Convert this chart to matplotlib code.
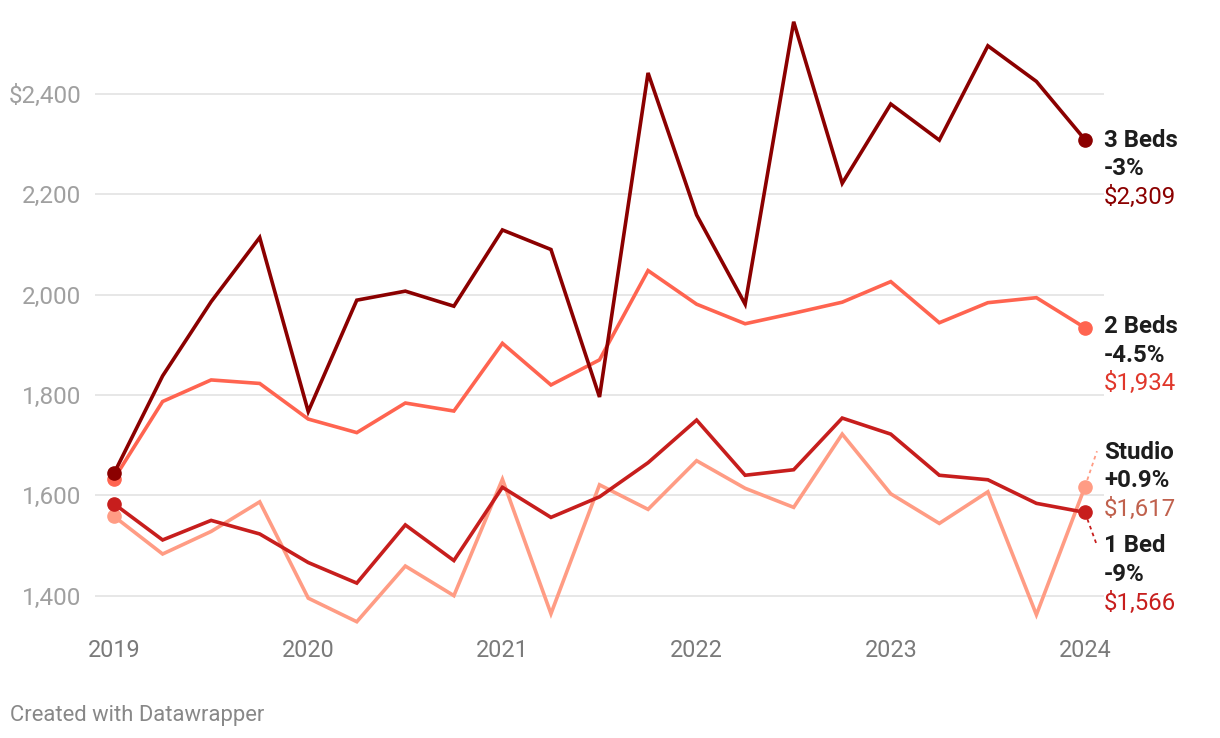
import matplotlib
matplotlib.use("Agg")
from matplotlib import pyplot as plt
import numpy as np

# quarterly, 2019 Q1 .. 2024 Q1
quarters = np.arange(21) / 4 + 2019

beds3 = [1644, 1838, 1986, 2114, 1767, 1989, 2007, 1977, 2129, 2090, 1796,
         2442, 2159, 1981, 2544, 2222, 2380, 2308, 2496, 2425, 2309]
beds2 = [1633, 1787, 1830, 1823, 1752, 1725, 1784, 1768, 1903, 1820, 1870,
         2048, 1981, 1942, 1963, 1985, 2026, 1944, 1984, 1994, 1934]
bed1 = [1583, 1511, 1550, 1523, 1466, 1425, 1541, 1470, 1616, 1556, 1597,
        1665, 1750, 1640, 1651, 1754, 1722, 1640, 1631, 1584, 1566]
studio = [1558, 1483, 1528, 1587, 1395, 1348, 1459, 1400, 1632, 1364, 1621,
          1572, 1669, 1614, 1576, 1722, 1603, 1544, 1607, 1362, 1617]

names = ["3 Beds", "2 Beds", "Studio", "1 Bed"]
changes = ["-3%", "-4.5%", "+0.9%", "-9%"]
values = [beds3, beds2, studio, bed1]
line_cols = ["#8b0000", "#ff6450", "#ff9c84", "#c71e1d"]
val_cols = ["#8b0000", "#e0372b", "#c0614d", "#c71e1d"]
# label anchor (data y of the label name line)
label_y = [2308, 1936, 1686, 1499]

yticks = [1400, 1600, 1800, 2000, 2200, 2400]
ytick_labels = ["1,400", "1,600", "1,800", "2,000", "2,200", "$2,400"]
xticks = [2019, 2020, 2021, 2022, 2023, 2024]

plt.rcParams['font.family'] = ['Roboto', 'DejaVu Sans']

fig = plt.figure(figsize=(12.2, 7.38), dpi=100)
ax = fig.add_axes([0.0779, 0.1487, 0.827, 0.8327])
ax.set_xlim(2018.902, 2024.098)
ax.set_ylim(1335, 2560)

for y in yticks:
    ax.axhline(y, color="#e3e3e3", lw=1.2, zorder=0)

# draw order: studio, 1 bed, 2 beds, 3 beds
for i in [2, 3, 1, 0]:
    ax.plot(quarters, values[i], color=line_cols[i], lw=2.6,
            solid_joinstyle="miter", zorder=2)
    ax.plot([quarters[0], quarters[-1]], [values[i][0], values[i][-1]], 'o',
            color=line_cols[i], ms=9.5, zorder=3)

for s in ax.spines.values():
    s.set_visible(False)
ax.tick_params(length=0)
ax.set_yticks(yticks)
ax.set_yticklabels(ytick_labels, color="#a0a0a0", fontsize=17.5)
ax.tick_params(axis='y', pad=10)
ax.set_xticks(xticks)
ax.set_xticklabels([str(x) for x in xticks], color="#7a7a7a", fontsize=16.8)
ax.tick_params(axis='x', pad=8)

# right side labels
xl = 2024.098
step = 28.5 / 0.5017  # px -> data units
for i in range(4):
    y0 = label_y[i]
    ax.text(xl, y0, names[i], fontsize=17.3, fontweight="bold", color="#1d1d1d",
            va="center", ha="left", clip_on=False)
    ax.text(xl, y0 - step, changes[i], fontsize=17.3, fontweight="bold",
            color="#1d1d1d", va="center", ha="left", clip_on=False)
    ax.text(xl, y0 - 2 * step, "$" + format(values[i][-1], ","), fontsize=17.3,
            color=val_cols[i], va="center", ha="left", clip_on=False)

# leader lines for studio and 1 bed
ax.plot([2024, 2024.062], [studio[-1], 1688], ls=(0, (2, 2)), lw=1.3,
        color=line_cols[2], clip_on=False, zorder=1)
ax.plot([2024, 2024.062], [bed1[-1], 1500], ls=(0, (2, 2)), lw=1.3,
        color=line_cols[3], clip_on=False, zorder=1)

fig.text(10 / 1220, 1 - 715 / 738, "Created with Datawrapper", fontsize=15.8,
         color="#888888", va="center", ha="left")

fig.savefig("out.png", dpi=100)
